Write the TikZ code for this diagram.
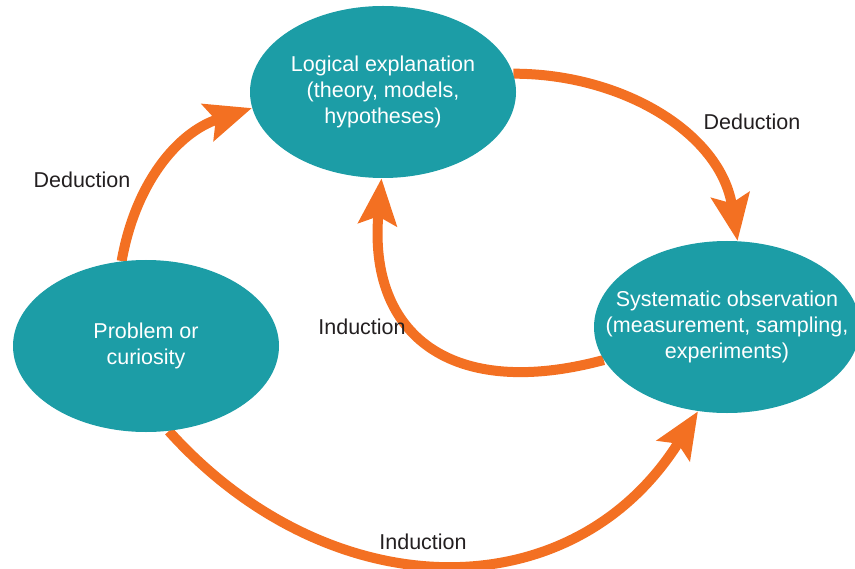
\documentclass[tikz,border=0pt]{standalone}
\usepackage{fontspec}
\setmainfont{Liberation Sans}
\usetikzlibrary{shapes.geometric, arrows.meta, backgrounds}
\definecolor{stageteal}{RGB}{28,157,166}
\definecolor{floworange}{RGB}{243,112,34}
\definecolor{labelgrey}{RGB}{35,31,32}

\begin{document}
\begin{tikzpicture}[%
        x=0.5pt, y=0.5pt,           % one unit per pixel
        >={Stealth[length=23pt, width=19pt, inset=4pt]},
        font=\fontsize{10.75}{13}\selectfont,
    ]
    \tikzset{
        stage/.style={ellipse, fill=stageteal, text=white, inner sep=0pt,
            minimum width=133pt, minimum height=86pt, align=center},
        % wide text would blow the ellipse up, so let it run over the sep
        widestage/.style={stage, inner xsep=-14pt},
        lbl/.style={text=labelgrey},
        % thick orange arcs between the stages
        flow/.style={->, draw=floworange, line width=5pt},
    }
    \useasboundingbox (0,0) rectangle (855,568);
    %%% Blocks
    \node [stage] (logic) at (383,476) {
        Logical explanation\\(theory, models,\\hypotheses)
    };
    \node [stage] (problem) at (146,222) {
        Problem or\\curiosity
    };
    \node [widestage] (observe) at (727,241) {
        Systematic observation\\(measurement, sampling,\\experiments)
    };
    %%% Labels
    \node [lbl] (ded_left) at (82,388) {Deduction};
    \node [lbl] (ded_right) at (752,446) {Deduction};
    \node [lbl] (ind_mid) at (362,241) {Induction};
    \node [lbl] (ind_low) at (423,26) {Induction};
    %%% Connectors
    \begin{scope}[on background layer]
        \draw [flow] (problem.106) to[out=80, in=198] (logic.187);
        \draw [flow] (logic.8) to[out=0, in=99] (observe.83);
        \draw [flow] (observe.195) to[out=195, in=265, looseness=1.4] (logic.269);
        \draw [flow] (problem.285) to[out=312, in=238, looseness=1.15] (observe.251);
    \end{scope}
\end{tikzpicture}
\end{document}
